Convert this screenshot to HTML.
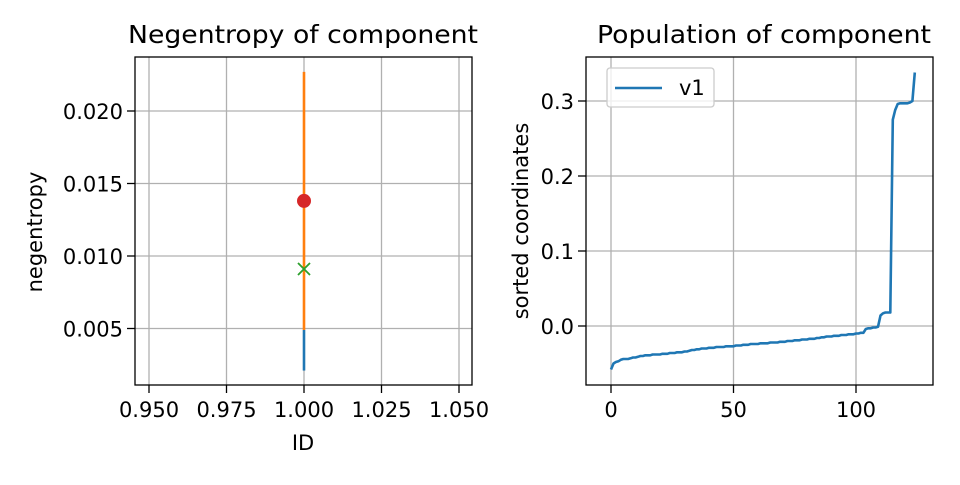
<!DOCTYPE html>
<html><head><meta charset="utf-8"><style>
body{margin:0;background:#fff;}
svg text{font-family:"DejaVu Sans","Liberation Sans",sans-serif;fill:#000;}
</style></head><body>
<svg id="chart" width="960" height="480" xmlns="http://www.w3.org/2000/svg">
<rect width="960" height="480" fill="#fff"/>
<g id="left"></g>
<g id="right"></g>
</svg>
<script>
// Left chart data
const leftXTicks=[0.950,0.975,1.000,1.025,1.050];
const leftYTicks=[0.005,0.010,0.015,0.020];
const blueRange=[0.0021,0.0049];
const orangeRange=[0.0049,0.0227];
const redPoint=[1.0,0.0138];
const greenPoint=[1.0,0.0091];
// Right chart data
const rightXTicks=[0,50,100];
const rightYTicks=[0.0,0.1,0.2,0.3];
const sortedCoords=[-0.058,-0.050,-0.048,-0.047,-0.045,-0.044,-0.044,-0.044,-0.043,-0.042,-0.042,-0.041,-0.040,-0.040,-0.039,-0.039,-0.039,-0.038,-0.038,-0.038,-0.038,-0.037,-0.037,-0.037,-0.036,-0.036,-0.036,-0.035,-0.035,-0.035,-0.034,-0.034,-0.033,-0.032,-0.032,-0.031,-0.031,-0.030,-0.030,-0.030,-0.029,-0.029,-0.029,-0.028,-0.028,-0.028,-0.028,-0.027,-0.027,-0.027,-0.027,-0.026,-0.026,-0.026,-0.025,-0.025,-0.025,-0.024,-0.024,-0.024,-0.024,-0.023,-0.023,-0.023,-0.023,-0.022,-0.022,-0.022,-0.022,-0.021,-0.021,-0.021,-0.020,-0.020,-0.020,-0.019,-0.019,-0.019,-0.018,-0.018,-0.018,-0.017,-0.017,-0.017,-0.016,-0.016,-0.015,-0.015,-0.014,-0.014,-0.014,-0.013,-0.013,-0.013,-0.012,-0.012,-0.012,-0.011,-0.011,-0.011,-0.010,-0.010,-0.009,-0.009,-0.004,-0.003,-0.003,-0.002,-0.002,-0.001,0.014,0.017,0.018,0.018,0.018,0.275,0.288,0.296,0.297,0.297,0.297,0.297,0.298,0.300,0.338];

const NS="http://www.w3.org/2000/svg";
function mk(parent,tag,attrs,text){const e=document.createElementNS(NS,tag);for(const k in attrs)e.setAttribute(k,attrs[k]);if(text!==undefined)e.textContent=text;parent.appendChild(e);return e;}
const TICK=21;

// Left panel
const L=document.getElementById('left');
const lx=v=>304+(v-1.0)/0.025*77.5;
const ly=v=>256-(v-0.010)/0.005*72.5;
const lft={x0:135,x1:472,y0:57,y1:385};
leftXTicks.forEach(t=>{const x=lx(t);
 let g=mk(L,'line',{x1:x,x2:x,y1:lft.y0,y2:lft.y1,stroke:'#b0b0b0','stroke-width':1.3});
 
 mk(L,'line',{x1:x,x2:x,y1:lft.y1,y2:lft.y1+8,stroke:'#000','stroke-width':1.3});
 let tx=mk(L,'text',{x:x,y:417,'text-anchor':'middle','font-size':TICK},t.toFixed(3));
 });
leftYTicks.forEach(t=>{const y=ly(t);
 let g=mk(L,'line',{x1:lft.x0,x2:lft.x1,y1:y,y2:y,stroke:'#b0b0b0','stroke-width':1.3});
 
 mk(L,'line',{x1:lft.x0-8,x2:lft.x0,y1:y,y2:y,stroke:'#000','stroke-width':1.3});
 let tx=mk(L,'text',{x:lft.x0-12,y:y+8,'text-anchor':'end','font-size':TICK},t.toFixed(3));
 });
let bl=mk(L,'line',{x1:lx(1),x2:lx(1),y1:ly(blueRange[0]),y2:ly(blueRange[1]),stroke:'#1f77b4','stroke-width':2.6});

let ol=mk(L,'line',{x1:lx(1),x2:lx(1),y1:ly(orangeRange[0]),y2:ly(orangeRange[1]),stroke:'#ff7f0e','stroke-width':2.6});

let rd=mk(L,'circle',{cx:lx(redPoint[0]),cy:ly(redPoint[1]),r:7,fill:'#d62728'});

const gx=lx(greenPoint[0]),gy=ly(greenPoint[1]);
let gm=mk(L,'path',{d:`M${gx-6},${gy-6}L${gx+6},${gy+6}M${gx-6},${gy+6}L${gx+6},${gy-6}`,stroke:'#2ca02c','stroke-width':1.8,fill:'none'});

let lf=mk(L,'rect',{x:lft.x0,y:lft.y0,width:lft.x1-lft.x0,height:lft.y1-lft.y0,fill:'none',stroke:'#000','stroke-width':1.3});

let lt=mk(L,'text',{x:303,y:43,'text-anchor':'middle','font-size':25,textLength:350,lengthAdjust:'spacingAndGlyphs'},'Negentropy of component');

let lxl=mk(L,'text',{x:303,y:450,'text-anchor':'middle','font-size':TICK},'ID');

let lyl=mk(L,'text',{x:0,y:0,'text-anchor':'middle','font-size':TICK,transform:'translate(42,232) rotate(-90)'},'negentropy');


// Right panel
const R=document.getElementById('right');
const rx=v=>611+v*2.45;
const ry=v=>326-v*750;
const rt={x0:586,x1:933,y0:57,y1:385};
rightXTicks.forEach(t=>{const x=rx(t);
 let g=mk(R,'line',{x1:x,x2:x,y1:rt.y0,y2:rt.y1,stroke:'#b0b0b0','stroke-width':1.3});
 
 mk(R,'line',{x1:x,x2:x,y1:rt.y1,y2:rt.y1+8,stroke:'#000','stroke-width':1.3});
 let tx=mk(R,'text',{x:x,y:417,'text-anchor':'middle','font-size':TICK},String(t));
 });
rightYTicks.forEach(t=>{const y=ry(t);
 let g=mk(R,'line',{x1:rt.x0,x2:rt.x1,y1:y,y2:y,stroke:'#b0b0b0','stroke-width':1.3});
 
 mk(R,'line',{x1:rt.x0-8,x2:rt.x0,y1:y,y2:y,stroke:'#000','stroke-width':1.3});
 let tx=mk(R,'text',{x:rt.x0-12,y:y+8,'text-anchor':'end','font-size':TICK},t.toFixed(1));
 });
let d=sortedCoords.map((v,i)=>(i?'L':'M')+rx(i).toFixed(1)+','+ry(v).toFixed(1)).join('');
let ln=mk(R,'path',{d:d,fill:'none',stroke:'#1f77b4','stroke-width':2.6,'stroke-linejoin':'round'});

let rf=mk(R,'rect',{x:rt.x0,y:rt.y0,width:rt.x1-rt.x0,height:rt.y1-rt.y0,fill:'none',stroke:'#000','stroke-width':1.3});

let lg=mk(R,'rect',{x:607,y:68,width:107,height:39,rx:3,fill:'#fff','fill-opacity':0.8,stroke:'#ccc','stroke-width':1.3});

let le=mk(R,'line',{x1:615,x2:662,y1:88,y2:88,stroke:'#1f77b4','stroke-width':2.6});

let lgt=mk(R,'text',{x:679,y:95,'font-size':TICK},'v1');

let rtt=mk(R,'text',{x:764,y:43,'text-anchor':'middle','font-size':25,textLength:334,lengthAdjust:'spacingAndGlyphs'},'Population of component');

let ryl=mk(R,'text',{x:0,y:0,'text-anchor':'middle','font-size':TICK,transform:'translate(528,221) rotate(-90)'},'sorted coordinates');

</script>
</body></html>
